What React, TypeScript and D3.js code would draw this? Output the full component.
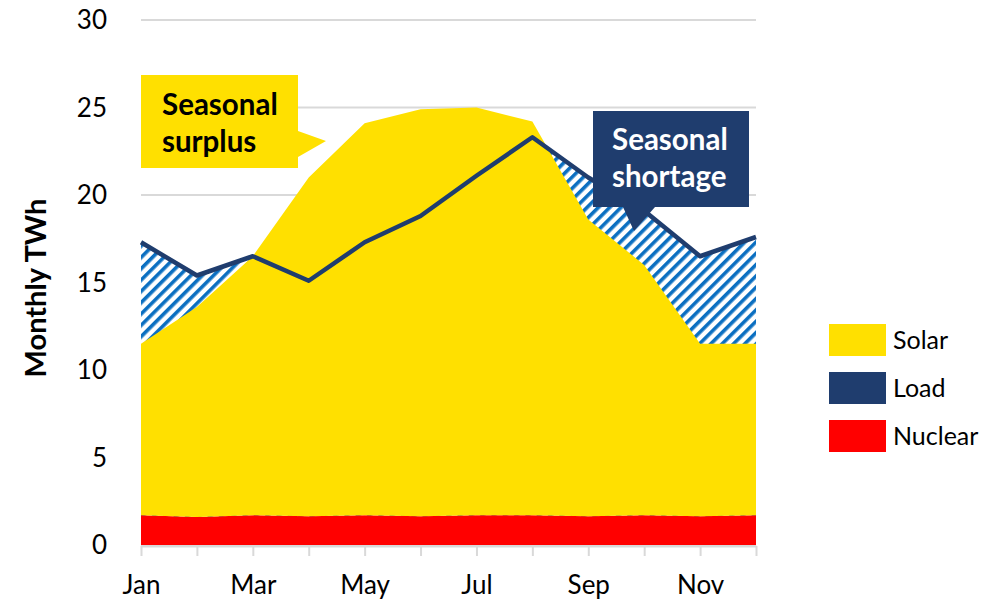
import React, { useEffect, useRef } from "react";
import * as d3 from "d3";

const WIDTH = 1005;
const HEIGHT = 603;
const FONT = "Lato, 'Open Sans', sans-serif";

const months = ["Jan", "Feb", "Mar", "Apr", "May", "Jun", "Jul", "Aug", "Sep", "Oct", "Nov", "Dec"];
const nuclear = [1.7, 1.6, 1.7, 1.65, 1.7, 1.65, 1.7, 1.7, 1.65, 1.7, 1.65, 1.7];
const solar = [9.8, 12.0, 14.8, 19.35, 22.4, 23.25, 23.3, 22.5, 16.95, 14.3, 9.85, 9.8];
const load = [17.3, 15.4, 16.5, 15.1, 17.3, 18.8, 21.1, 23.3, 21.0, 19.1, 16.5, 17.6];
const yTicks = [0, 5, 10, 15, 20, 25, 30];
const legendItems = [
  { name: "Solar", color: "#ffe000" },
  { name: "Load", color: "#1f3d6e" },
  { name: "Nuclear", color: "#ff0000" },
];

const MARGIN = { LEFT: 141, RIGHT: 249, TOP: 20, BOTTOM: 58 };

const App = () => {
  const svgRef = useRef(null);

  useEffect(() => {
    const svg = d3.select(svgRef.current);
    svg.selectAll("*").remove();

    const rows = months.map((m, i) => ({ month: m, i, nuclear: nuclear[i], solar: solar[i], load: load[i] }));

    const x = d3
      .scaleLinear()
      .domain([0, months.length - 1])
      .range([MARGIN.LEFT, WIDTH - MARGIN.RIGHT]);
    const y = d3
      .scaleLinear()
      .domain([0, 30])
      .range([HEIGHT - MARGIN.BOTTOM, MARGIN.TOP]);

    const stacked = d3.stack().keys(["nuclear", "solar"])(rows);

    // hatch pattern for the shortage
    const defs = svg.append("defs");
    const pat = defs
      .append("pattern")
      .attr("id", "hatch")
      .attr("patternUnits", "userSpaceOnUse")
      .attr("width", 8)
      .attr("height", 8)
      .attr("patternTransform", "rotate(45)");
    pat.append("rect").attr("width", 8).attr("height", 8).attr("fill", "#ffffff");
    pat.append("rect").attr("width", 3.6).attr("height", 8).attr("fill", "#0b6fc1");

    // grid
    svg
      .append("g")
      .selectAll("line")
      .data(yTicks)
      .join("line")
      .attr("x1", MARGIN.LEFT)
      .attr("x2", WIDTH - MARGIN.RIGHT)
      .attr("y1", (d) => y(d))
      .attr("y2", (d) => y(d))
      .attr("stroke", "#d9d9d9")
      .attr("stroke-width", 2);

    // shortage hatch below load line
    svg
      .append("path")
      .datum(rows)
      .attr("fill", "url(#hatch)")
      .attr(
        "d",
        d3
          .area()
          .x((d) => x(d.i))
          .y0(y(0))
          .y1((d) => y(d.load))
      );

    const area = d3
      .area()
      .x((d, i) => x(i))
      .y0((d) => y(d[0]))
      .y1((d) => y(d[1]));

    svg
      .append("g")
      .selectAll("path")
      .data(stacked)
      .join("path")
      .attr("fill", (d) => (d.key === "solar" ? "#ffe000" : "#ff0000"))
      .attr("d", area);

    // load line
    svg
      .append("path")
      .datum(rows)
      .attr("fill", "none")
      .attr("stroke", "#1f3d6e")
      .attr("stroke-width", 4.5)
      .attr("stroke-linejoin", "round")
      .attr(
        "d",
        d3
          .line()
          .x((d) => x(d.i))
          .y((d) => y(d.load))
      );

    // x axis
    const xAxis = d3
      .axisBottom(x)
      .tickValues(d3.range(months.length))
      .tickFormat((i) => (i % 2 === 0 ? months[i] : ""))
      .tickSize(10)
      .tickSizeOuter(0)
      .tickPadding(20);
    const gx = svg
      .append("g")
      .attr("transform", `translate(0,${y(0) + 1})`)
      .call(xAxis);
    gx.select(".domain").attr("stroke", "#d9d9d9").attr("stroke-width", 2);
    gx.selectAll(".tick line").attr("stroke", "#d9d9d9").attr("stroke-width", 2);
    gx.selectAll(".tick text")
      .attr("font-family", FONT)
      .attr("font-size", 26)
      .attr("fill", "#000");

    // y axis labels
    svg
      .append("g")
      .selectAll("text")
      .data(yTicks)
      .join("text")
      .attr("x", 107)
      .attr("y", (d) => y(d))
      .attr("dy", "0.36em")
      .attr("text-anchor", "end")
      .attr("font-family", FONT)
      .attr("font-size", 26)
      .text((d) => d);

    svg
      .append("text")
      .attr("transform", `translate(46,${288}) rotate(-90)`)
      .attr("text-anchor", "middle")
      .attr("font-family", FONT)
      .attr("font-weight", "bold")
      .attr("font-size", 29)
      .text("Monthly TWh");

    // callouts
    const surplus = svg.append("g");
    surplus
      .append("path")
      .attr("fill", "#ffe000")
      .attr("d", "M141,75 H298 V131 L326,141 L298,157 V168 H141 Z");
    surplus
      .selectAll("text")
      .data(["Seasonal", "surplus"])
      .join("text")
      .attr("x", 162)
      .attr("y", (d, i) => 115 + i * 37)
      .attr("font-family", FONT)
      .attr("font-weight", "bold")
      .attr("font-size", 29.5)
      .attr("fill", "#000")
      .text((d) => d);

    const shortage = svg.append("g");
    shortage
      .append("path")
      .attr("fill", "#1f3d6e")
      .attr("d", "M593,111 H749 V207 H655 L634,231 L623,207 H593 Z");
    shortage
      .selectAll("text")
      .data(["Seasonal", "shortage"])
      .join("text")
      .attr("x", 612)
      .attr("y", (d, i) => 150 + i * 37)
      .attr("font-family", FONT)
      .attr("font-weight", "bold")
      .attr("font-size", 29.5)
      .attr("fill", "#fff")
      .text((d) => d);

    // legend
    const lg = svg
      .append("g")
      .selectAll("g")
      .data(legendItems)
      .join("g")
      .attr("transform", (d, i) => `translate(829,${324 + i * 48})`);
    lg.append("rect").attr("width", 57).attr("height", 32).attr("fill", (d) => d.color);
    lg.append("text")
      .attr("x", 64)
      .attr("y", 16)
      .attr("dy", "0.36em")
      .attr("font-family", FONT)
      .attr("font-size", 25)
      .text((d) => d.name);
  }, []);

  return (
    <svg
      ref={svgRef}
      width={WIDTH}
      height={HEIGHT}
      style={{ position: "absolute", left: 0, top: 0, background: "#fff" }}
    ></svg>
  );
};

export default App;
